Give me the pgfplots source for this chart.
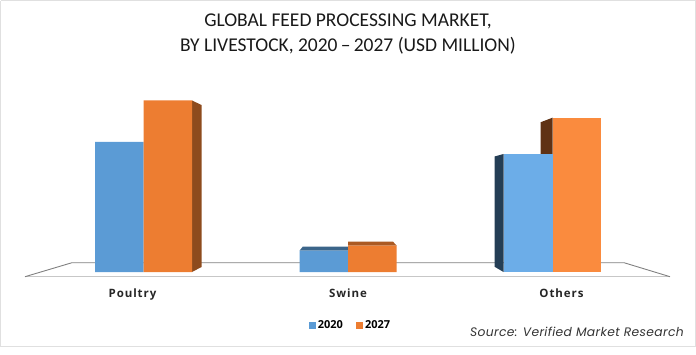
\documentclass[border=0pt]{standalone}
\usepackage{pgfplots}
\pgfplotsset{compat=1.18}
\usepackage{fontspec}
\setmainfont{Carlito}
\newfontfamily\lab[LetterSpace=8]{Open Sans}
\newfontfamily\leg{Open Sans}
\newfontfamily\src[LetterSpace=3]{Poppins}
\definecolor{blueA}{HTML}{5B9BD5}
\definecolor{orangeA}{HTML}{ED7D31}
\definecolor{blueB}{HTML}{6CADE8}
\definecolor{orangeB}{HTML}{FA8B3E}
\begin{document}
\begin{tikzpicture}[x=1pt,y=1pt]
\begin{axis}[
  at={(0,74)},anchor=south west,
  scale only axis,width=696pt,height=280pt,
  xmin=0,xmax=696,ymin=-8,ymax=272,
  axis line style={draw=none},
  tick style={draw=none},
  axis x line*=bottom,axis y line=none,
  xtick={132.5,348,561.5},
  xticklabels={Poultry,Swine,Others},
  xticklabel style={font=\lab\fontsize{11.5}{13}\selectfont\bfseries,text=black!85,yshift=-5pt},
  clip=false,
  legend style={at={(axis cs:350.5,-53)},anchor=center,draw=none,fill=none,
    legend columns=2,font=\leg\fontsize{11}{13}\selectfont\bfseries,
    /tikz/every even column/.append style={column sep=11pt}},
  legend image code/.code={\fill[#1] (0pt,-3.5pt) rectangle (7pt,3.5pt);},
  title style={at={(axis cs:348,272)},anchor=north,yshift=-13.5pt,align=center,
     font=\fontsize{19.5}{25}\selectfont,text=black!90},
  title={\rule{0pt}{15pt}GLOBAL FEED PROCESSING MARKET,\\BY LIVESTOCK, 2020\,--\,2027 (USD MILLION)},
]
% frame
\addplot[forget plot,draw=black!12,line width=1.4pt] coordinates {(0.7,271.3)(695.3,271.3)(695.3,-74.5)(0.7,-74.5)(0.7,271.3)};
% floor
\addplot[forget plot,draw=black!22,line width=1.5pt] coordinates {(25,-4.7)(670,-4.7)};
\addplot[forget plot,draw=black!50,line width=0.9pt] coordinates {(25,-4.7)(72,9.3)(624,9.3)(670,-4.7)};
% side faces
\addplot[forget plot,fill=orangeA!60!black,draw=none] coordinates {(192,171.5)(201.5,167)(201.5,5)(192,0)} -- cycle;
\addplot[forget plot,fill=blueA!65!black,draw=none] coordinates {(299.5,21.3)(302.7,25.3)(348,25.3)(348,21.3)} -- cycle;
\addplot[forget plot,fill=orangeA!72!black,draw=none] coordinates {(348,26.3)(348,30.3)(393,30.3)(396.8,26.3)} -- cycle;
\addplot[forget plot,fill=blueA!40!black,draw=none] coordinates {(503.5,118)(494.5,115.5)(494.5,5.3)(503.5,0)} -- cycle;
\addplot[forget plot,fill=orangeA!40!black,draw=none] coordinates {(540.5,118)(540.5,149.7)(552.5,154.3)(552.5,118)} -- cycle;
% 2020
\addplot[forget plot,fill=blueA,draw=none,ybar,bar width=48.5pt,bar shift=-24.25pt] coordinates {(143.5,130)(348,21.3)};
\addplot[forget plot,fill=blueB,draw=none,ybar,bar width=48.5pt,bar shift=-24.25pt] coordinates {(552.5,118)};
% 2027
\addplot[forget plot,fill=orangeA,draw=none,ybar,bar width=48.5pt,bar shift=24.25pt] coordinates {(143.5,171.5)(348,26.3)};
\addplot[forget plot,fill=orangeB,draw=none,ybar,bar width=48.5pt,bar shift=24.25pt] coordinates {(552.5,154.3)};
% legend
\addlegendimage{fill=blueA,draw=none}\addlegendentry{2020}
\addlegendimage{fill=orangeA,draw=none}\addlegendentry{2027}
\node[anchor=east,font=\src\itshape\fontsize{12.3}{14}\selectfont,text=black!80,inner sep=0pt] at (axis cs:684,-59.5) {Source: Verified Market Research};
\path (axis cs:0,-82) -- (axis cs:696,272);
\end{axis}
\end{tikzpicture}
\end{document}
